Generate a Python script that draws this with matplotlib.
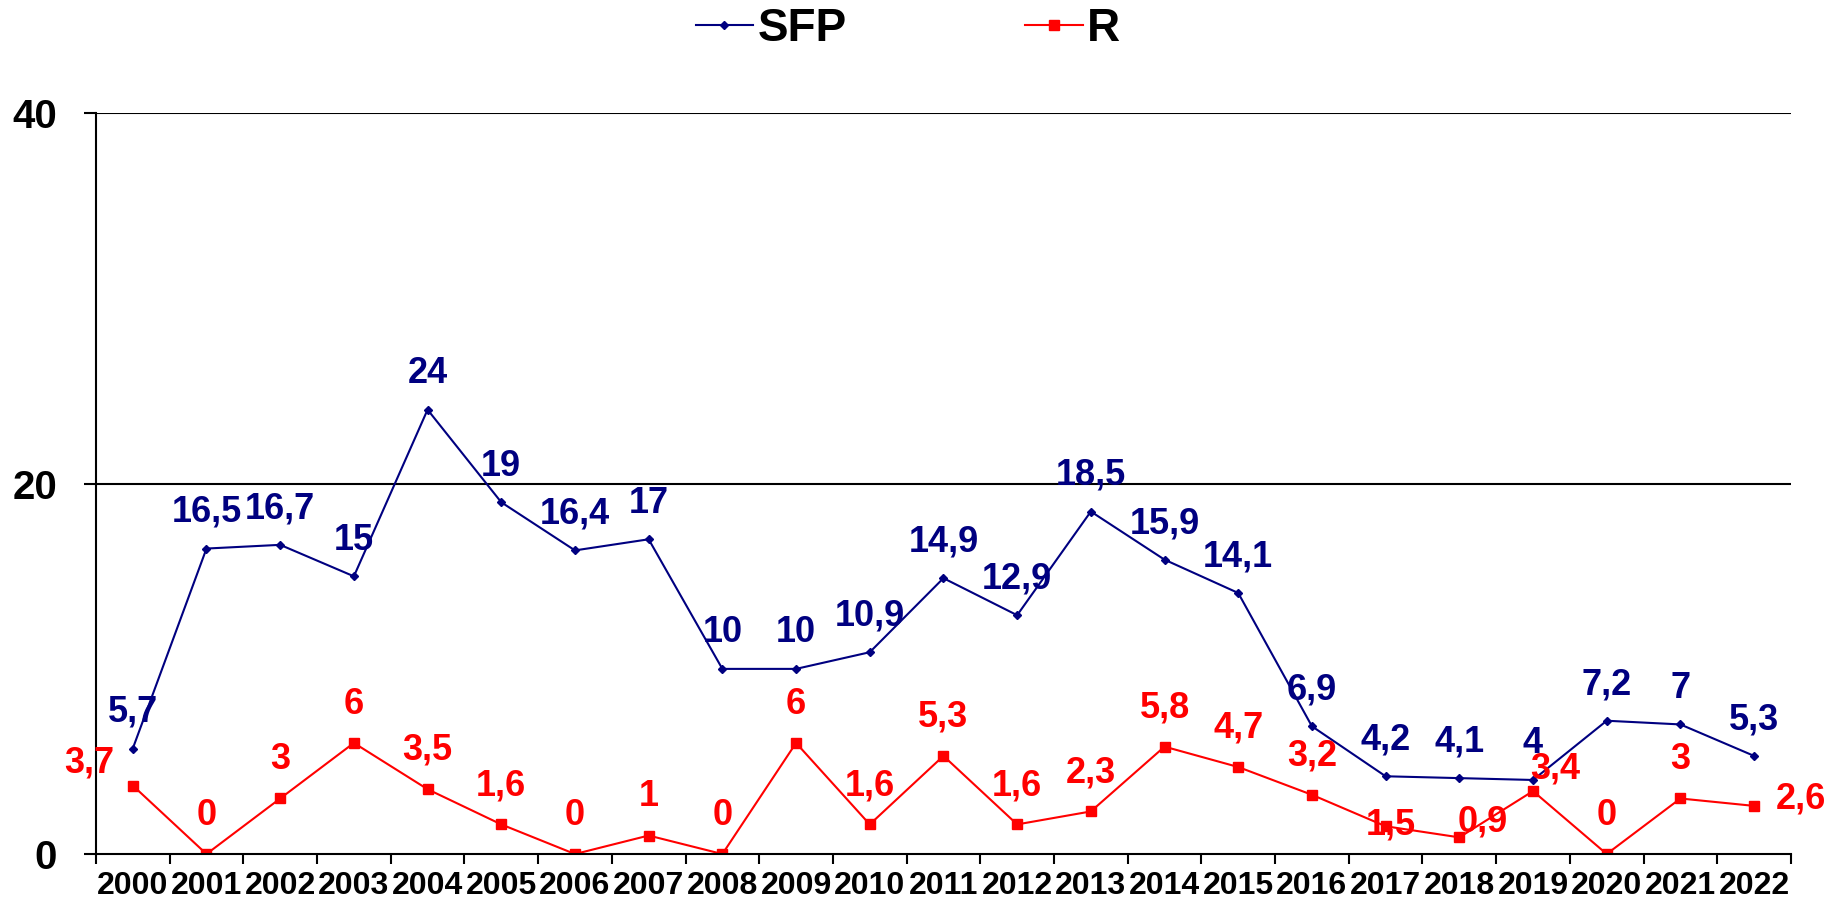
import numpy as np
import matplotlib
matplotlib.use('Agg')
import matplotlib.pyplot as plt

plt.rcParams['font.family'] = ['Liberation Sans', 'DejaVu Sans']
plt.rcParams['font.weight'] = 'bold'

# 데이터
years = [str(y) for y in range(2000, 2023)]
sfp = [5.7, 16.5, 16.7, 15, 24, 19, 16.4, 17, 10, 10, 10.9, 14.9, 12.9,
       18.5, 15.9, 14.1, 6.9, 4.2, 4.1, 4, 7.2, 7, 5.3]
r = [3.7, 0, 3, 6, 3.5, 1.6, 0, 1, 0, 6, 1.6, 5.3, 1.6, 2.3, 5.8, 4.7,
     3.2, 1.5, 0.9, 3.4, 0, 3, 2.6]

navy = '#000080'
red = '#FF0000'

fig = plt.figure(figsize=(18.38, 9.07), dpi=100)
ax = fig.add_axes([0.0522, 0.0584, 0.9222, 0.8165])

x = np.arange(len(years)) + 0.5
ax.plot(x, sfp, color=navy, lw=1.5, marker='D', ms=4.5, label='SFP')
ax.plot(x, r, color=red, lw=1.5, marker='s', ms=6.5, label='R')

def fmt(v):
    # 소수점은 쉼표로
    return ('%g' % v).replace('.', ',')

# 라벨 위치 (기본: 위쪽)
for i, v in enumerate(sfp):
    ax.annotate(fmt(v), (x[i], v), xytext=(0, 26), textcoords='offset points',
                ha='center', va='center', fontsize=26, color=navy, fontweight='bold')

r_offsets = {0: (-31, 16), 17: (4, 1), 18: (17, 11), 19: (16, 16), 22: (34, 5)}
for i, v in enumerate(r):
    off = r_offsets.get(i, (0, 28))
    ax.annotate(fmt(v), (x[i], v), xytext=off, textcoords='offset points',
                ha='center', va='center', fontsize=26, color=red, fontweight='bold')

ax.set_xlim(0, len(years))
ax.set_ylim(0, 40)
ax.set_yticks([0, 20, 40])
ax.set_yticklabels(['0', '20', '40'], fontsize=29, fontweight='bold')
ax.tick_params(axis='y', length=9, width=1.5, pad=19)

ax.set_xticks(np.arange(len(years) + 1))
ax.set_xticklabels([])
ax.set_xticks(x, minor=True)
ax.set_xticklabels(years, minor=True, fontsize=23, fontweight='bold')
ax.tick_params(axis='x', which='major', length=7, width=1.5, direction='out')
ax.tick_params(axis='x', which='minor', length=0, pad=12)

for yv in [20, 40]:
    ax.axhline(yv, color='black', lw=1.5, zorder=0)

ax.spines['top'].set_visible(False)
ax.spines['right'].set_visible(False)
ax.spines['left'].set_linewidth(1.5)
ax.spines['bottom'].set_linewidth(1.5)

fig.legend(loc='center', bbox_to_anchor=(0.494, 0.968), ncol=2, frameon=False,
           prop={'size': 33, 'weight': 'bold'}, handlelength=1.25,
           handletextpad=0.1, columnspacing=3.9)

plt.savefig('out.png', dpi=100)
